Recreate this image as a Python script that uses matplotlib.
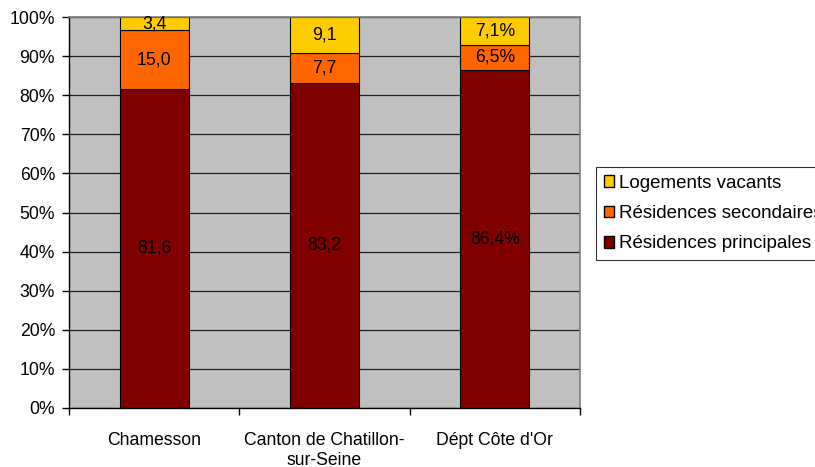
import matplotlib
matplotlib.use("Agg")
import matplotlib.pyplot as plt
from matplotlib.patches import Patch

plt.rcParams['font.family'] = ['Liberation Sans', 'DejaVu Sans']

categories = ["Chamesson", "Canton de Chatillon-\nsur-Seine", "Dépt Côte d'Or"]
principales = [81.6, 83.2, 86.4]
secondaires = [15.0, 7.7, 6.5]
vacants = [3.4, 9.1, 7.1]
lab_principales = ["81,6", "83,2", "86,4%"]
lab_secondaires = ["15,0", "7,7", "6,5%"]
lab_vacants = ["3,4", "9,1", "7,1%"]
yticks = [0, 10, 20, 30, 40, 50, 60, 70, 80, 90, 100]
ytick_labels = ["0%", "10%", "20%", "30%", "40%", "50%", "60%", "70%", "80%", "90%", "100%"]

c_pri = "#800000"
c_sec = "#FF6600"
c_vac = "#FFCC00"

fig = plt.figure(figsize=(8.15, 4.67), dpi=100)
ax = fig.add_axes([69/815, 1 - 408/467, 511/815, 391/467])
ax.set_facecolor("#C0C0C0")

x = list(range(len(categories)))
w = 0.405
fs = 12.7

ax.yaxis.grid(True, color="#202020", linewidth=0.9)
ax.set_axisbelow(True)

ax.bar(x, principales, w, color=c_pri, edgecolor="black", linewidth=0.8)
bottom2 = principales
ax.bar(x, secondaires, w, bottom=bottom2, color=c_sec, edgecolor="black", linewidth=0.8)
bottom3 = [a + b for a, b in zip(principales, secondaires)]
ax.bar(x, vacants, w, bottom=bottom3, color=c_vac, edgecolor="black", linewidth=0.8)

for i in x:
    ax.text(i, principales[i] / 2, lab_principales[i], ha="center", va="center", fontsize=fs)
    ax.text(i, principales[i] + secondaires[i] / 2, lab_secondaires[i], ha="center", va="center", fontsize=fs)
    ax.text(i, bottom3[i] + vacants[i] / 2, lab_vacants[i], ha="center", va="center", fontsize=fs)

ax.set_xlim(-0.5, 2.5)
ax.set_ylim(0, 100)
ax.set_yticks(yticks)
ax.set_yticklabels(ytick_labels, fontsize=fs)
ax.set_xticks(x)
ax.set_xticklabels(categories, fontsize=fs, linespacing=1.25)
ax.tick_params(axis="x", which="major", length=0, pad=17)
ax.set_xticks([-0.5, 0.5, 1.5, 2.5], minor=True)
ax.tick_params(axis="x", which="minor", length=5, width=1, color="black")
ax.tick_params(axis="y", length=5, width=1, color="black", pad=5)

for s in ["top", "right"]:
    ax.spines[s].set_color("#808080")
    ax.spines[s].set_linewidth(1.2)
for s in ["left", "bottom"]:
    ax.spines[s].set_color("black")
    ax.spines[s].set_linewidth(1.0)

handles = [Patch(facecolor=c_vac, edgecolor="black", label="Logements vacants"),
           Patch(facecolor=c_sec, edgecolor="black", label="Résidences secondaires"),
           Patch(facecolor=c_pri, edgecolor="black", label="Résidences principales")]
leg = fig.legend(handles=handles, loc="upper left", bbox_to_anchor=(596/815, 1 - 167/467),
                 fontsize=13.5, frameon=True, fancybox=False, edgecolor="black",
                 handlelength=0.55, handleheight=0.55, handletextpad=0.3, borderpad=0.4,
                 labelspacing=0.72, borderaxespad=0)
leg.get_frame().set_linewidth(0.8)

fig.savefig("out.png", dpi=100)
